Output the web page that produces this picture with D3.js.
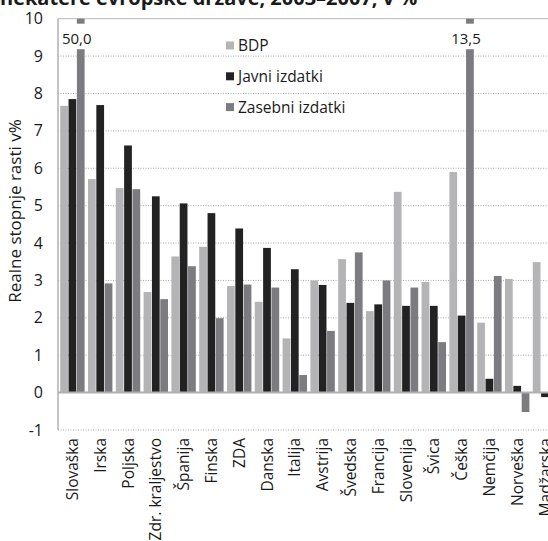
<!DOCTYPE html>
<html>
<head>
<meta charset="utf-8">
<script src="https://cdn.jsdelivr.net/npm/d3@7"></script>
<style>
  body { margin: 0; background: #fff; }
  svg { display: block; }
  text { font-family: "Open Sans", "Noto Sans", sans-serif; fill: #1a1a1a; }
</style>
</head>
<body>
<svg></svg>
<script>
// countries, sorted as in the source figure
var countries = ["Slovaška", "Irska", "Poljska", "Zdr. kraljestvo", "Španija", "Finska",
  "ZDA", "Danska", "Italija", "Avstrija", "Švedska", "Francija", "Slovenija",
  "Švica", "Češka", "Nemčija", "Norveška", "Madžarska"];

// real growth rates 2003-2007, %
var bdp     = [7.67, 5.71, 5.47, 2.69, 3.64, 3.90, 2.85, 2.43, 1.45, 3.00, 3.57, 2.18, 5.37, 2.96, 5.90, 1.87, 3.04, 3.49];
var javni   = [7.85, 7.69, 6.61, 5.25, 5.06, 4.80, 4.39, 3.87, 3.30, 2.88, 2.40, 2.36, 2.32, 2.32, 2.06, 0.37, 0.18, -0.12];
var zasebni = [50.0, 2.92, 5.44, 2.50, 3.38, 1.99, 2.89, 2.81, 0.47, 1.65, 3.75, 3.00, 2.81, 1.35, 13.5, 3.12, -0.52, 1.50];

var seriesNames = ["BDP", "Javni izdatki", "Zasebni izdatki"];
var seriesColors = ["#b4b4b6", "#222222", "#7c7c80"];
var yTicks = [-1, 0, 1, 2, 3, 4, 5, 6, 7, 8, 9, 10];

var width = 548, height = 541;
var yMax = 10;

var svg = d3.select('svg')
  .attr('width', width)
  .attr('height', height);

var x = d3.scaleBand()
  .domain(countries)
  .range([58.5, 58.5 + 18 * 27.8])
  .paddingInner(0.1)
  .paddingOuter(0.05);

var x1 = d3.scaleBand()
  .domain(seriesNames)
  .range([0, x.bandwidth()]);

var y = d3.scaleLinear()
  .domain([-1, 10])
  .range([430, 18.7]);

// gridlines
svg.append('g')
  .selectAll('line')
  .data(yTicks.filter(function(d) { return d != 0 && d != 10; }))
  .enter()
  .append('line')
  .attr('x1', 58).attr('x2', width)
  .attr('y1', function(d) { return y(d); })
  .attr('y2', function(d) { return y(d); })
  .attr('stroke', '#a8a8a8')
  .attr('stroke-width', 1)
  .attr('stroke-dasharray', '1,1.5');

// top border
svg.append('line')
  .attr('x1', 58).attr('x2', width)
  .attr('y1', y(10)).attr('y2', y(10))
  .attr('stroke', '#b8b8b8').attr('stroke-width', 1);

// bars
var rows = [];
countries.forEach(function(c, i) {
  [bdp, javni, zasebni].forEach(function(s, j) {
    rows.push({country: c, series: seriesNames[j], value: s[i], color: seriesColors[j]});
  });
});

svg.append('g')
  .selectAll('rect')
  .data(rows)
  .enter()
  .append('rect')
  .attr('x', function(d) { return x(d.country) + x1(d.series) + 0.3; })
  .attr('width', x1.bandwidth() - 0.6)
  .attr('y', function(d) { return y(Math.max(0, Math.min(yMax, d.value))); })
  .attr('height', function(d) { return Math.abs(y(Math.min(yMax, d.value)) - y(0)); })
  .attr('fill', function(d) { return d.color; });

// broken bars: white gap with value label
var broken = rows.filter(function(d) { return d.value > yMax; });
svg.append('g')
  .selectAll('rect')
  .data(broken)
  .enter()
  .append('rect')
  .attr('x', function(d) { return x(d.country) + x1(d.series) - 1; })
  .attr('width', x1.bandwidth() + 2)
  .attr('y', y(yMax) + 5)
  .attr('height', 25.5)
  .attr('fill', '#fff');

svg.append('g')
  .selectAll('text')
  .data(broken)
  .enter()
  .append('text')
  .attr('x', function(d) { return x(d.country) + x1(d.series) + x1.bandwidth() / 2 - 4; })
  .attr('y', 43.5)
  .attr('text-anchor', 'middle')
  .attr('style', 'font-size: 15px')
  .text(function(d) { return d3.format('.1f')(d.value).replace('.', ','); });

// zero line and left axis
svg.append('line')
  .attr('x1', 58).attr('x2', width)
  .attr('y1', y(0)).attr('y2', y(0))
  .attr('stroke', '#b0b0b0').attr('stroke-width', 2);

svg.append('line')
  .attr('x1', 58).attr('x2', 58)
  .attr('y1', y(10)).attr('y2', y(-1))
  .attr('stroke', '#b0b0b0').attr('stroke-width', 1.5);

// y tick labels
svg.append('g')
  .selectAll('text')
  .data(yTicks)
  .enter()
  .append('text')
  .attr('x', 43)
  .attr('y', function(d) { return y(d) + 5.5; })
  .attr('text-anchor', 'end')
  .attr('style', 'font-size: 16px')
  .text(function(d) { return d; });

// y axis title
svg.append('text')
  .attr('transform', 'translate(21,' + 211 + ') rotate(-90)')
  .attr('text-anchor', 'middle')
  .attr('style', 'font-size: 17px')
  .text('Realne stopnje rasti v%');

// country labels
svg.append('g')
  .selectAll('text')
  .data(countries)
  .enter()
  .append('text')
  .attr('transform', function(d) {
    return 'translate(' + (x(d) + x.bandwidth() / 2 + 5.5) + ',438) rotate(-90)';
  })
  .attr('text-anchor', 'end')
  .attr('style', 'font-size: 15.5px')
  .text(function(d) { return d; });

// legend
var legend = svg.append('g')
  .selectAll('g')
  .data(seriesNames)
  .enter()
  .append('g')
  .attr('transform', function(d, i) { return 'translate(226,' + (45.5 + i * 30.8) + ')'; });

legend.append('rect')
  .attr('x', 0).attr('y', -4)
  .attr('width', 8).attr('height', 8)
  .attr('fill', function(d, i) { return seriesColors[i]; });

legend.append('text')
  .attr('x', 12)
  .attr('y', 5.5)
  .attr('style', 'font-size: 15.5px')
  .text(function(d) { return d; });

// title, cut by the top edge
svg.append('text')
  .attr('x', 0)
  .attr('y', 5)
  .attr('style', 'font-size: 20px; font-weight: bold')
  .text('nekatere evropske države, 2003–2007, v %');
</script>
</body>
</html>
